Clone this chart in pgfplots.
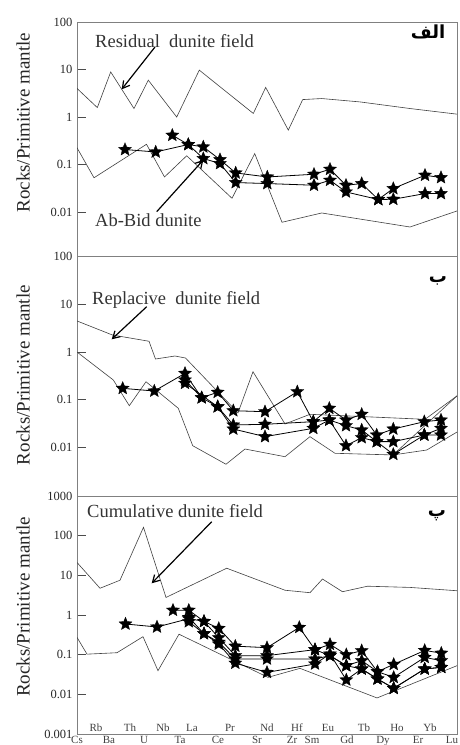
\documentclass[border=0pt]{standalone}
\usepackage{fontspec}
\setmainfont{Liberation Serif}
\newfontfamily\arabicfont[Script=Arabic]{DejaVu Sans}
\usepackage{pgfplots}
\pgfplotsset{compat=1.18}
\usetikzlibrary{arrows.meta}
\TeXXeTstate=1

\pgfdeclareplotmark{fstar}{%
  \pgfpathmoveto{\pgfpointpolar{90}{\pgfplotmarksize}}%
  \pgfpathlineto{\pgfpointpolar{126}{0.45\pgfplotmarksize}}%
  \pgfpathlineto{\pgfpointpolar{162}{\pgfplotmarksize}}%
  \pgfpathlineto{\pgfpointpolar{198}{0.45\pgfplotmarksize}}%
  \pgfpathlineto{\pgfpointpolar{234}{\pgfplotmarksize}}%
  \pgfpathlineto{\pgfpointpolar{270}{0.45\pgfplotmarksize}}%
  \pgfpathlineto{\pgfpointpolar{306}{\pgfplotmarksize}}%
  \pgfpathlineto{\pgfpointpolar{342}{0.45\pgfplotmarksize}}%
  \pgfpathlineto{\pgfpointpolar{18}{\pgfplotmarksize}}%
  \pgfpathlineto{\pgfpointpolar{54}{0.45\pgfplotmarksize}}%
  \pgfpathclose
  \pgfusepathqfillstroke
}

\pgfplotsset{
  myPanel/.style={
    scale only axis, width=380pt, xmin=77, xmax=457,
    axis line style={draw=black!50, line width=0.8pt},
    xtick=\empty, ytick pos=left, tick align=inside, major tick length=9pt,
    yminorticks=false,
    tick style={black!70, line width=0.8pt},
    yticklabel style={font=\fontsize{12.5}{13}\selectfont, text=black!85, xshift=-1pt},
    ylabel={Rocks/Primitive mantle},
  },
  myYlab/.style={every axis y label/.style={at={(axis description cs:-0.142,#1)}, rotate=90, anchor=center,
     font=\fontsize{19}{20}\selectfont, text=black!85}},
  myField/.style={draw=black!75, line width=0.6pt, mark=none},
  myStars/.style={draw=black, line width=0.8pt, mark=fstar, mark size=6.8pt,
    mark options={fill=black, draw=black, line width=0.3pt}},
}

\begin{document}
\begin{tikzpicture}[x=1pt,y=1pt]
\useasboundingbox (0pt,0pt) rectangle (460pt,745pt);
\clip (0pt,0pt) rectangle (460pt,745pt);

% ---------------- Panel 1 ----------------
\begin{axis}[ymode=log, myPanel, at={(77pt,489pt)}, anchor=south west, height=234pt,
  ymin=0.00119, ymax=100,
  ytick={0.01,0.1,1,10,100}, yticklabels={0.01,0.1,1,10,100},
  myYlab=0.57]
\addplot[myField] coordinates {(77,4.0) (97.3,1.58) (110.7,8.9) (134,1.51) (148.3,5.96) (176.7,1.0) (199.3,9.7) (253.3,1.19) (265.7,4.2) (288.3,0.53) (302.7,2.33) (321.7,2.45) (360,2.08) (410,1.51) (457,1.15)};
\addplot[myField] coordinates {(77,0.226) (94,0.0527) (146.5,0.267) (164.5,0.0548) (186.7,0.153) (232,0.0195) (254.7,0.170) (282,0.0061) (321.7,0.00957) (410,0.00485) (457,0.01055)};
\addplot[myStars] coordinates {(125,0.207) (155.7,0.184) (188.3,0.264) (203.3,0.235) (220,0.127) (235.7,0.0666) (267.3,0.0548) (314,0.0625) (330,0.0796) (346,0.0367) (361.7,0.0398) (378.3,0.0184) (393.3,0.0313) (425,0.0596) (441,0.0532)};
\addplot[myStars] coordinates {(172.3,0.414) (188.3,0.264) (203.3,0.134) (220,0.105) (235.7,0.0418) (267.3,0.0398) (314,0.0367) (330,0.0467) (346,0.0265) (378.3,0.0184) (393.3,0.0186) (425,0.0245) (441,0.0245)};
\end{axis}

% ---------------- Panel 2 ----------------
\begin{axis}[ymode=log, myPanel, at={(77pt,249pt)}, anchor=south west, height=240pt,
  ymin=0.000957, ymax=103,
  ytick={0.01,0.1,1,10,100}, yticklabels={0.01,0.1,1,10,100},
  myYlab=0.504]
\addplot[myField] coordinates {(77,4.47) (112.5,2.27) (149,1.68) (155.5,0.713) (175,0.824) (185.5,0.748) (238,0.053) (253,0.386) (285,0.031) (310,0.0494) (425,0.0388) (457,0.12)};
\addplot[myField] coordinates {(77,1.0) (113.3,0.259) (129.3,0.0748) (146,0.238) (178.3,0.066) (192.7,0.01086) (226,0.00443) (245,0.00925) (285,0.00638) (310,0.0168) (335,0.00752) (393,0.00694) (426.7,0.00881) (457,0.021)};
\addplot[myField] coordinates {(393,0.00694) (457,0.12)};
\addplot[myStars] coordinates {(122.7,0.173) (154.3,0.152) (185,0.357) (201.7,0.110) (217.7,0.143) (233.3,0.0588) (265,0.0560) (297.3,0.147) (313.3,0.0346) (329.3,0.0661) (346,0.0375) (361.7,0.0494) (376.7,0.0182) (393.3,0.0243) (424.3,0.0346) (441,0.0375)};
\addplot[myStars] coordinates {(185,0.259) (201.7,0.110) (217.7,0.0713) (233.3,0.0295) (265,0.0305) (313.3,0.0346) (329.3,0.0375) (346,0.0285) (361.7,0.0232) (376.7,0.0132) (393.3,0.0132) (424.3,0.0182) (441,0.0251)};
\addplot[myStars] coordinates {(185,0.221) (217.7,0.0713) (233.3,0.0243) (265,0.0168) (313.3,0.0251) (329.3,0.0375) (346,0.01086) (361.7,0.0160) (376.7,0.0132) (393.3,0.00716) (424.3,0.0182) (441,0.0182)};
\end{axis}

% ---------------- Panel 3 ----------------
\begin{axis}[ymode=log, myPanel, at={(77pt,11pt)}, anchor=south west, height=238pt,
  ymin=0.001, ymax=1000,
  ytick={0.001,0.01,0.1,1,10,100,1000}, yticklabels={0.001,0.01,0.1,1,10,100,1000},
  myYlab=0.534]
\addplot[myField] coordinates {(77,21.1) (100,4.73) (120,7.53) (143.5,163) (166,2.77) (226.7,15.1) (285,4.21) (310,3.65) (322.5,8.07) (342.5,3.86) (367.5,5.32) (410,4.96) (457,4.09)};
\addplot[myField] coordinates {(77,0.273) (87,0.103) (117,0.112) (143,0.284) (158,0.0395) (179,0.328) (268,0.0268) (300,0.0452) (377,0.00811) (457,0.0528)};
\addplot[myStars] coordinates {(125.5,0.593) (157,0.499) (188.8,0.807) (204,0.690) (218.8,0.460) (235.3,0.164) (267,0.150) (299.3,0.487) (315,0.134) (330,0.182) (346.3,0.100) (361.7,0.126) (377.5,0.0373) (393.7,0.0570) (424.7,0.128) (441.3,0.109)};
\addplot[myStars] coordinates {(173,1.32) (188.8,1.32) (204,0.690) (218.8,0.268) (235.3,0.0944) (267,0.0944) (315,0.134) (330,0.0944) (346.3,0.0528) (361.7,0.0706) (377.5,0.0373) (393.7,0.0268) (424.7,0.0855) (441.3,0.0706)};
\addplot[myStars] coordinates {(188.8,0.678) (204,0.338) (218.8,0.206) (235.3,0.0779) (267,0.0779) (315,0.0779) (330,0.0944) (346.3,0.0528) (361.7,0.0436) (377.5,0.0244) (393.7,0.0142) (424.7,0.0436) (441.3,0.0479)};
\addplot[myStars] coordinates {(188.8,0.87) (204,0.338) (218.8,0.186) (235.3,0.0611) (267,0.0358) (315,0.0583) (330,0.104) (346.3,0.0231) (361.7,0.0436) (377.5,0.0244) (393.7,0.0142) (424.7,0.0436) (441.3,0.0479)};
\end{axis}

% ---------------- annotations ----------------
\begin{scope}[every node/.style={font=\fontsize{18.5}{19}\selectfont, text=black!80, inner sep=0pt}]
\node[anchor=base west] at (95pt,697pt) {Residual~~dunite field};
\node[anchor=base west] at (95pt,518pt) {Ab-Bid dunite};
\node[anchor=base west] at (92pt,440pt) {Replacive~~dunite field};
\node[anchor=base west] at (87pt,227pt) {Cumulative dunite field};
\end{scope}
\begin{scope}[line width=1.2pt, -{Straight Barb[length=7pt, width=8pt]}]
\draw (155pt,698pt) -- (121.7pt,655.7pt);
\draw (156.7pt,533.3pt) -- (203.3pt,585pt);
\draw (146.7pt,438.3pt) -- (111.7pt,405.7pt);
\draw (211.7pt,223.3pt) -- (151.7pt,161.7pt);
\end{scope}

\node[font=\arabicfont\bfseries\fontsize{18}{19}\selectfont] at (428pt,713pt) {\beginR الف\endR};
\node[font=\arabicfont\bfseries\fontsize{18}{19}\selectfont] at (438pt,464pt) {\beginR ب\endR};
\node[font=\arabicfont\bfseries\fontsize{18}{19}\selectfont] at (437pt,229pt) {\beginR پ\endR};

% element labels
\begin{scope}[every node/.style={font=\fontsize{11}{12}\selectfont, text=black!75, inner sep=0pt, anchor=base}]
\node at (96pt,13.5pt) {Rb}; \node at (130pt,13.5pt) {Th}; \node at (163pt,13.5pt) {Nb};
\node at (192pt,13.5pt) {La}; \node at (230pt,13.5pt) {Pr}; \node at (267pt,13.5pt) {Nd};
\node at (297pt,13.5pt) {Hf}; \node at (328pt,13.5pt) {Eu}; \node at (364pt,13.5pt) {Tb};
\node at (397pt,13.5pt) {Ho}; \node at (430pt,13.5pt) {Yb};
\node at (77pt,1.5pt) {Cs}; \node at (109pt,1.5pt) {Ba}; \node at (144pt,1.5pt) {U};
\node at (180pt,1.5pt) {Ta}; \node at (218pt,1.5pt) {Ce}; \node at (257pt,1.5pt) {Sr};
\node at (292pt,1.5pt) {Zr}; \node at (312pt,1.5pt) {Sm}; \node at (347pt,1.5pt) {Gd};
\node at (383pt,1.5pt) {Dy}; \node at (418pt,1.5pt) {Er}; \node at (452pt,1.5pt) {Lu};
\end{scope}
\end{tikzpicture}
\end{document}
